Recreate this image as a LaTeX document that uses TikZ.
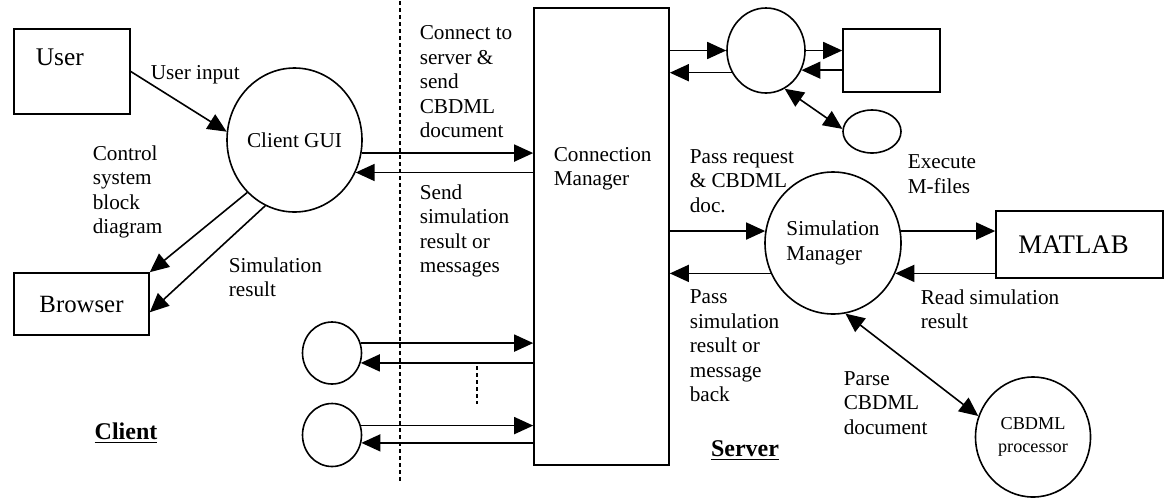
\documentclass[tikz,border=0pt]{standalone}
\usepackage{fontspec}
\setmainfont{Liberation Serif}
\usetikzlibrary{arrows.meta,shapes.geometric,calc}
\newcommand\fnorm{\fontsize{10.6}{12.25}\selectfont}
\newcommand\fuser{\fontsize{12.7}{15}\selectfont}
\newcommand\fbrowser{\fontsize{12.4}{15}\selectfont}
\newcommand\fmatlab{\fontsize{13.4}{16}\selectfont}
\newcommand\fclient{\fontsize{12}{14}\selectfont\bfseries}
\newcommand\fcp{\fontsize{9.1}{11.5}\selectfont}
\begin{document}
\begin{tikzpicture}[x=0.5pt,y=-0.5pt,
  line width=0.8pt,
  box/.style={draw, rectangle, inner sep=0pt},
  proc/.style={draw, ellipse, inner sep=0pt},
  lbl/.style={inner sep=0pt, align=left, font=\fnorm, anchor=west},
  arr/.style={-{Triangle[length=9.5pt,width=8.5pt]}},
  darr/.style={{Triangle[length=9.5pt,width=8.5pt]}-{Triangle[length=9.5pt,width=8.5pt]}},
  sep/.style={line width=0.6pt, dash pattern=on 2pt off 1.5pt}]
\useasboundingbox (0,0) rectangle (1166,499);

% shapes
\node[box, minimum width=58pt, minimum height=42.5pt] (user) at (72,71.5) {};
\node[lbl, font=\fuser] (usertxt) at (35,57) {User};
\node[proc, minimum width=67.5pt, minimum height=72pt, font=\fnorm] (cgui) at (294.5,140) {Client GUI};
\node[box, minimum width=67.5pt, minimum height=31pt, font=\fbrowser] (browser) at (81.5,304) {Browser};
\node[box, minimum width=67.5pt, minimum height=228.5pt] (cm) at (601.5,236.5) {};
\node[lbl] (cmtxt) at (553,169) {Connection\\Manager};
\node[proc, minimum width=29.5pt, minimum height=31pt] (c1) at (332,353) {};
\node[proc, minimum width=29.5pt, minimum height=31.5pt] (c2) at (332,435) {};
\node[proc, minimum width=39pt, minimum height=42.5pt] (tc) at (766,50.5) {};
\node[box, minimum width=48.5pt, minimum height=31.5pt] (tr) at (891.5,60.5) {};
\node[proc, minimum width=29pt, minimum height=21.5pt] (se) at (872,131.5) {};
\node[proc, minimum width=68pt, minimum height=71pt, align=left, font=\fnorm] (sm) at (833,243) {Simulation\\Manager};
\node[box, minimum width=83.5pt, minimum height=33.5pt, font=\fmatlab] (matlab) at (1079.5,244.5) {MATLAB\hspace*{6pt}};
\node[proc, minimum width=57.5pt, minimum height=60pt, align=center, font=\fcp] (cp) at (1033,437) {CBDML\\processor};

% labels
\node[lbl] (l1) at (150,75) {User input};
\node[lbl] (l2) at (92,192) {Control\\system\\block\\diagram};
\node[lbl] (l3) at (228,277) {Simulation\\result};
\node[lbl] (l4) at (419,82) {Connect to\\server \&\\send\\CBDML\\document};
\node[lbl] (l5) at (419,231) {Send\\simulation\\result or\\messages};
\node[lbl] (l6) at (689,181) {Pass request\\\& CBDML\\doc.};
\node[lbl] (l7) at (907,174) {Execute\\M-files};
\node[lbl] (l8) at (689,346) {Pass\\simulation\\result or\\message\\back};
\node[lbl] (l9) at (920,309) {Read simulation\\result};
\node[lbl] (l10) at (843,403) {Parse\\CBDML\\document};
\node[inner sep=0pt, font=\fclient] (client) at (126,433) {\underline{Client}};
\node[inner sep=0pt, font=\fclient] (server) at (745,451) {\underline{Server}};

% separators
\draw[sep] (400,1) -- (400,482);
\draw[sep] (477,366) -- (477,404);

% connectors
\coordinate (b2) at ($(browser.north east)!0.63!(browser.south east)$);
\draw[arr] (user.east) -- (cgui.173);
\draw[arr] (cgui.228) -- (browser.north east);
\draw[arr] (cgui.246) -- (b2);
\draw[arr] (cgui.-11) -- (cgui.-11 -| cm.west);
\draw[arr] (cm.west |- cgui.-28) -- (cgui.-28);
\draw[arr] (c1.19) -- (c1.19 -| cm.west);
\draw[arr] (cm.west |- c1.-19) -- (c1.-19);
\draw[arr] (c2.18) -- (c2.18 -| cm.west);
\draw[arr] (cm.west |- c2.-15) -- (c2.-15);
\draw[arr] (cm.east |- tc.west) -- (tc.west);
\draw[arr] (tc.213) -- (tc.213 -| cm.east);
\draw[arr] (tc.east) -- (tc.east -| tr.west);
\draw[arr] (tc.-29 -| tr.west) -- (tc.-29);
\draw[darr] (tc.-64) -- (se.175);
\draw[arr] (sm.170 -| cm.east) -- (sm.170);
\draw[arr] (sm.206) -- (sm.206 -| cm.east);
\draw[arr] (sm.10) -- (sm.10 -| matlab.west);
\draw[arr] (sm.-26 -| matlab.west) -- (sm.-26);
\draw[darr] (sm.-80) -- (cp.159);
\end{tikzpicture}
\end{document}
